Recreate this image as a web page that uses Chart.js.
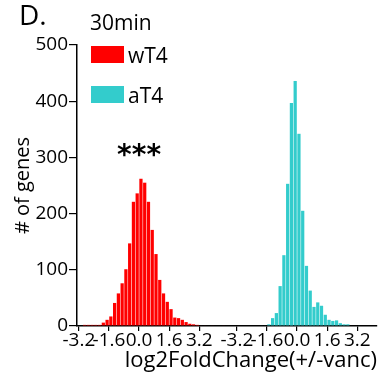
<!DOCTYPE html>
<html>
<head>
<meta charset="utf-8">
<script src="https://cdn.jsdelivr.net/npm/chart.js@4.4.0/dist/chart.umd.min.js"></script>
<style>
  html, body { margin: 0; padding: 0; background: #fff; }
  #wrap { width: 380px; height: 375px; }
</style>
</head>
<body>
<div id="wrap"><canvas id="hist" width="380" height="375"></canvas></div>
<script>
// bin centres (log2 fold change) and number of genes per bin
const wT4Bins   = [-2.9, -2.7, -2.5, -2.3, -2.1, -1.9, -1.7, -1.5, -1.3, -1.1, -0.9, -0.7, -0.5, -0.3, -0.1,
                   0.1, 0.3, 0.5, 0.7, 0.9, 1.1, 1.3, 1.5, 1.7, 1.9, 2.1, 2.3, 2.5, 2.7, 2.9, 3.1, 3.3, 3.5, 3.9, 4.5];
const wT4Counts = [2, 2, 2, 2, 2, 6, 11, 17, 41, 58, 76, 101, 147, 221, 236,
                   262, 255, 221, 171, 128, 82, 58, 43, 30, 15, 14, 11, 7, 4, 3, 2, 1, 1, 1, 1];

const aT4Bins   = [-1.9, -1.7, -1.5, -1.3, -1.1, -0.9, -0.7, -0.5, -0.3, -0.1,
                   0.1, 0.3, 0.5, 0.7, 0.9, 1.1, 1.3, 1.5, 1.7, 1.9, 2.1, 2.3, 2.5, 2.7, 3.3];
const aT4Counts = [1, 1, 3, 14, 23, 71, 126, 253, 397, 436,
                   342, 205, 107, 63, 34, 42, 36, 20, 11, 9, 10, 5, 3, 3, 1];

const tickValues = [-3.2, -1.6, 0, 1.6, 3.2];
const tickLabels = ['-3.2', '-1.6', '0.0', '1.6', '3.2'];
const yTicks = [0, 100, 200, 300, 400, 500];

// the aT4 histogram sits in its own panel to the right of wT4
const panelShift = 8.4;

const font = 'Open Sans';

const annotations = {
  id: 'annotations',
  afterDraw(chart) {
    const ctx = chart.ctx;
    const xs = chart.scales.x, ys = chart.scales.y;
    ctx.save();
    ctx.fillStyle = '#000';
    ctx.textBaseline = 'alphabetic';
    ctx.font = '28px "' + font + '"';
    ctx.fillText('D.', 19, 25);
    ctx.font = '21px "' + font + '"';
    ctx.fillText('30min', 90, 30);
    chart.data.datasets.forEach((ds, i) => {
      const top = 46 + i * 40;
      ctx.fillStyle = ds.backgroundColor;
      ctx.fillRect(91, top, 33, 17);
      ctx.fillStyle = '#000';
      ctx.fillText(ds.label, 128, top + 17);
    });
    // significance stars over the wT4 peak
    ctx.font = 'bold 28px "DejaVu Sans"';
    ctx.textAlign = 'center';
    ctx.fillText('***', xs.getPixelForValue(0), ys.getPixelForValue(300) + 7);
    ctx.restore();
  }
};

new Chart(document.getElementById('hist'), {
  type: 'bar',
  data: {
    datasets: [
      {
        label: 'wT4',
        backgroundColor: '#FF0000',
        data: wT4Bins.map((b, i) => ({ x: b, y: wT4Counts[i] }))
      },
      {
        label: 'aT4',
        backgroundColor: '#33CCCC',
        data: aT4Bins.map((b, i) => ({ x: b + panelShift, y: aT4Counts[i] }))
      }
    ]
  },
  options: {
    responsive: false,
    animation: false,
    devicePixelRatio: 1,
    layout: { padding: { top: 45, right: 3, left: 0, bottom: 0 } },
    datasets: {
      bar: { grouped: false, barPercentage: 1, categoryPercentage: 0.86, borderWidth: 0 }
    },
    plugins: { legend: { display: false }, tooltip: { enabled: false } },
    scales: {
      x: {
        type: 'linear',
        offset: false,
        min: -3.3,
        max: 12.65,
        afterBuildTicks: s => {
          s.ticks = tickValues.concat(tickValues.map(v => v + panelShift)).map(v => ({ value: v }));
        },
        afterFit: s => { s.height = 49; },
        ticks: {
          autoSkip: false,
          maxRotation: 0,
          padding: 0,
          color: '#000',
          font: { family: font, size: 19, lineHeight: 1 },
          callback: (v, i) => tickLabels[i % tickLabels.length]
        },
        grid: { offset: false, drawOnChartArea: false, drawTicks: true, tickLength: 5, color: '#000', lineWidth: 1.2 },
        border: { color: '#000', width: 1.5 },
        title: {
          display: true,
          text: 'log2FoldChange(+/-vanc)',
          align: 'end',
          color: '#000',
          font: { family: font, size: 22 },
          padding: { top: 0, bottom: 1 }
        }
      },
      y: {
        min: 0,
        max: 500,
        afterBuildTicks: s => { s.ticks = yTicks.map(v => ({ value: v })); },
        afterFit: s => { s.width = 77; },
        ticks: { padding: 1, color: '#000', font: { family: font, size: 19 } },
        grid: { drawOnChartArea: false, drawTicks: true, tickLength: 8, color: '#000', lineWidth: 1.2 },
        border: { color: '#000', width: 1.5 },
        title: {
          display: true,
          text: '# of genes',
          color: '#000',
          font: { family: font, size: 20 },
          padding: { top: 11, bottom: 0 }
        }
      }
    }
  },
  plugins: [annotations]
});
</script>
</body>
</html>
